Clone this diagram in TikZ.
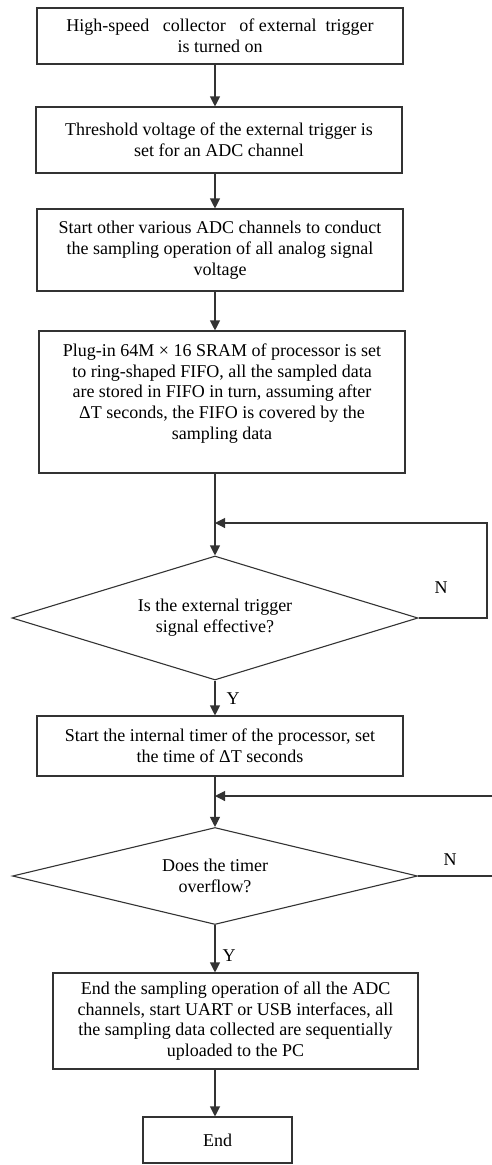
\documentclass[tikz,border=0pt]{standalone}
\usepackage{fontspec}
\setmainfont{Liberation Serif}
\usetikzlibrary{shapes.geometric,arrows.meta}
\definecolor{lnclr}{rgb}{0.2,0.2,0.2}
\tikzset{
  stepbox/.style={draw=lnclr,line width=1.1pt,align=center,inner sep=0pt,
    font={\fontsize{18}{20.8}\selectfont}},
  decbox/.style={draw=lnclr,line width=1.1pt,diamond,aspect=4,align=center,inner sep=0pt,
    font={\fontsize{18}{20.8}\selectfont}},
  lbl/.style={font={\fontsize{18}{20.8}\selectfont}},
  arr/.style={line width=1.1pt,color=lnclr,-{Triangle[length=10pt,width=10pt]}},
  ln/.style={line width=1.1pt,color=lnclr}
}
\begin{document}
\begin{tikzpicture}[x=1pt,y=-1pt]
  \useasboundingbox (0,0) rectangle (492,1165);
  \coordinate (ax) at (215,0);
  \node[stepbox,minimum width=366pt,minimum height=56pt] (b1) at (220,36)
    {High-speed\ \ \ collector\ \ \ of external\ \ trigger\\is turned on};
  \node[stepbox,minimum width=366pt,minimum height=66pt] (b2) at (219,140)
    {Threshold voltage of the external trigger is\\set for an ADC channel};
  \node[stepbox,minimum width=366pt,minimum height=82pt] (b3) at (220,250)
    {Start other various ADC channels to conduct\\the sampling operation of all analog signal\\voltage};
  \node[stepbox,minimum width=366pt,minimum height=142pt] (b4) at (222,402)
    {Plug-in 64M × 16 SRAM of processor is set\\to ring-shaped FIFO, all the sampled data\\are stored in FIFO in turn, assuming after\\ΔT seconds, the FIFO is covered by the\\sampling data\\\mbox{}};
  \node[decbox,minimum width=406pt,minimum height=124pt] (d1) at (215,618)
    {Is the external trigger\\signal effective?};
  \node[stepbox,minimum width=366pt,minimum height=60pt] (b5) at (220,746)
    {Start the internal timer of the processor, set\\the time of ΔT seconds};
  \node[decbox,minimum width=405pt,minimum height=97pt] (d2) at (215,876)
    {Does the timer\\overflow?};
  \node[stepbox,minimum width=365pt,minimum height=96pt] (b6) at (235.5,1021)
    {End the sampling operation of all the ADC\\channels, start UART or USB interfaces, all\\the sampling data collected are sequentially\\uploaded to the PC};
  \node[stepbox,minimum width=149pt,minimum height=46pt] (e) at (217.5,1140) {End};
  \node[lbl] (y1) at (233,699) {Y};
  \node[lbl] (y2) at (229,956) {Y};
  \node[lbl] (n1) at (441,588) {N};
  \node[lbl] (n2) at (450,860) {N};
  \coordinate (j1) at (215,523);
  \coordinate (r1) at (487,523);
  \coordinate (j2) at (215,796);
  \coordinate (r2) at (500,796);
  \draw[arr] (b1.south -| ax) -- (b2.north -| ax);
  \draw[arr] (b2.south -| ax) -- (b3.north -| ax);
  \draw[arr] (b3.south -| ax) -- (b4.north -| ax);
  \draw[arr] (b4.south -| ax) -- (d1.north);
  \draw[arr] (d1.east) -| (r1) -- (j1);
  \draw[arr] (d1.south) -- (b5.north -| ax);
  \draw[arr] (b5.south -| ax) -- (d2.north);
  \draw[arr] (d2.east) -| (r2) -- (j2);
  \draw[arr] (d2.south) -- (b6.north -| ax);
  \draw[arr] (b6.south -| ax) -- (e.north -| ax);
\end{tikzpicture}
\end{document}
